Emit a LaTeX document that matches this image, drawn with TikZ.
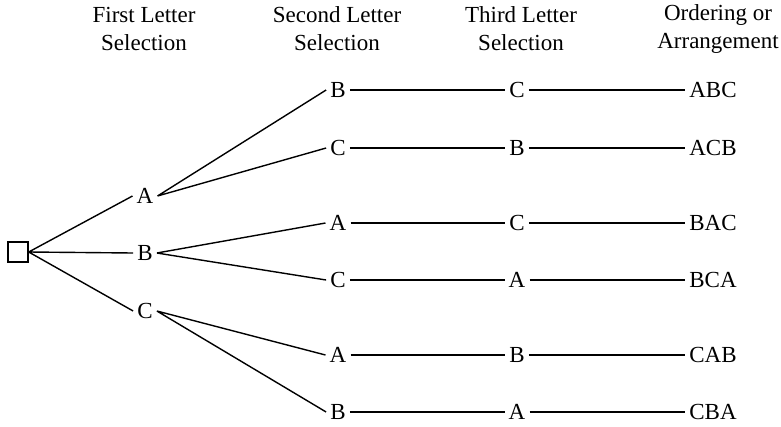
\documentclass[tikz,border=0pt]{standalone}
\usepackage{fontspec}
\setmainfont{Liberation Serif}
\usepackage{tikz}
\usetikzlibrary{positioning}

\begin{document}
\begin{tikzpicture}[x=1pt,y=-1pt,font=\fontsize{23}{28}\selectfont,every node/.style={align=center,inner sep=4pt},link/.style={line width=1.4pt}]
    \useasboundingbox (0,0) rectangle (781,426);
    % column headings
    \node (hfirst) at (144,29) {First Letter\\Selection};
    \node (hsecond) at (337,29) {Second Letter\\Selection};
    \node (hthird) at (521,29) {Third Letter\\Selection};
    \node (horder) at (718,29) {Ordering or\\Arrangement};
    % start box
    \node[draw,line width=1.4pt,minimum size=20pt,inner sep=0pt] (start) at (18,252) {};
    % first letter
    \node (a) at (145,196) {A};
    \node (b) at (145,253) {B};
    \node (c) at (145,311) {C};
    % second letter
    \node (ab) at (338,90) {B};
    \node (ac) at (338,148) {C};
    \node (ba) at (338,223) {A};
    \node (bc) at (338,280) {C};
    \node (ca) at (338,355) {A};
    \node (cb) at (338,412) {B};
    % third letter
    \node (abc) at (517,90) {C};
    \node (acb) at (517,148) {B};
    \node (bac) at (517,223) {C};
    \node (bca) at (517,280) {A};
    \node (cab) at (517,355) {B};
    \node (cba) at (517,412) {A};
    % orderings
    \node (oabc) at (713,90) {ABC};
    \node (oacb) at (713,148) {ACB};
    \node (obac) at (713,223) {BAC};
    \node (obca) at (713,280) {BCA};
    \node (ocab) at (713,355) {CAB};
    \node (ocba) at (713,412) {CBA};
    \draw[link] (start.east)--(a.west) (start.east)--(b.west) (start.east)--(c.west);
    \draw[link] (a.east)--(ab.west) (a.east)--(ac.west);
    \draw[link] (b.east)--(ba.west) (b.east)--(bc.west);
    \draw[link] (c.east)--(ca.west) (c.east)--(cb.west);
    \draw[link] (ab)--(abc)--(oabc);
    \draw[link] (ac)--(acb)--(oacb);
    \draw[link] (ba)--(bac)--(obac);
    \draw[link] (bc)--(bca)--(obca);
    \draw[link] (ca)--(cab)--(ocab);
    \draw[link] (cb)--(cba)--(ocba);
  \end{tikzpicture}
\end{document}
